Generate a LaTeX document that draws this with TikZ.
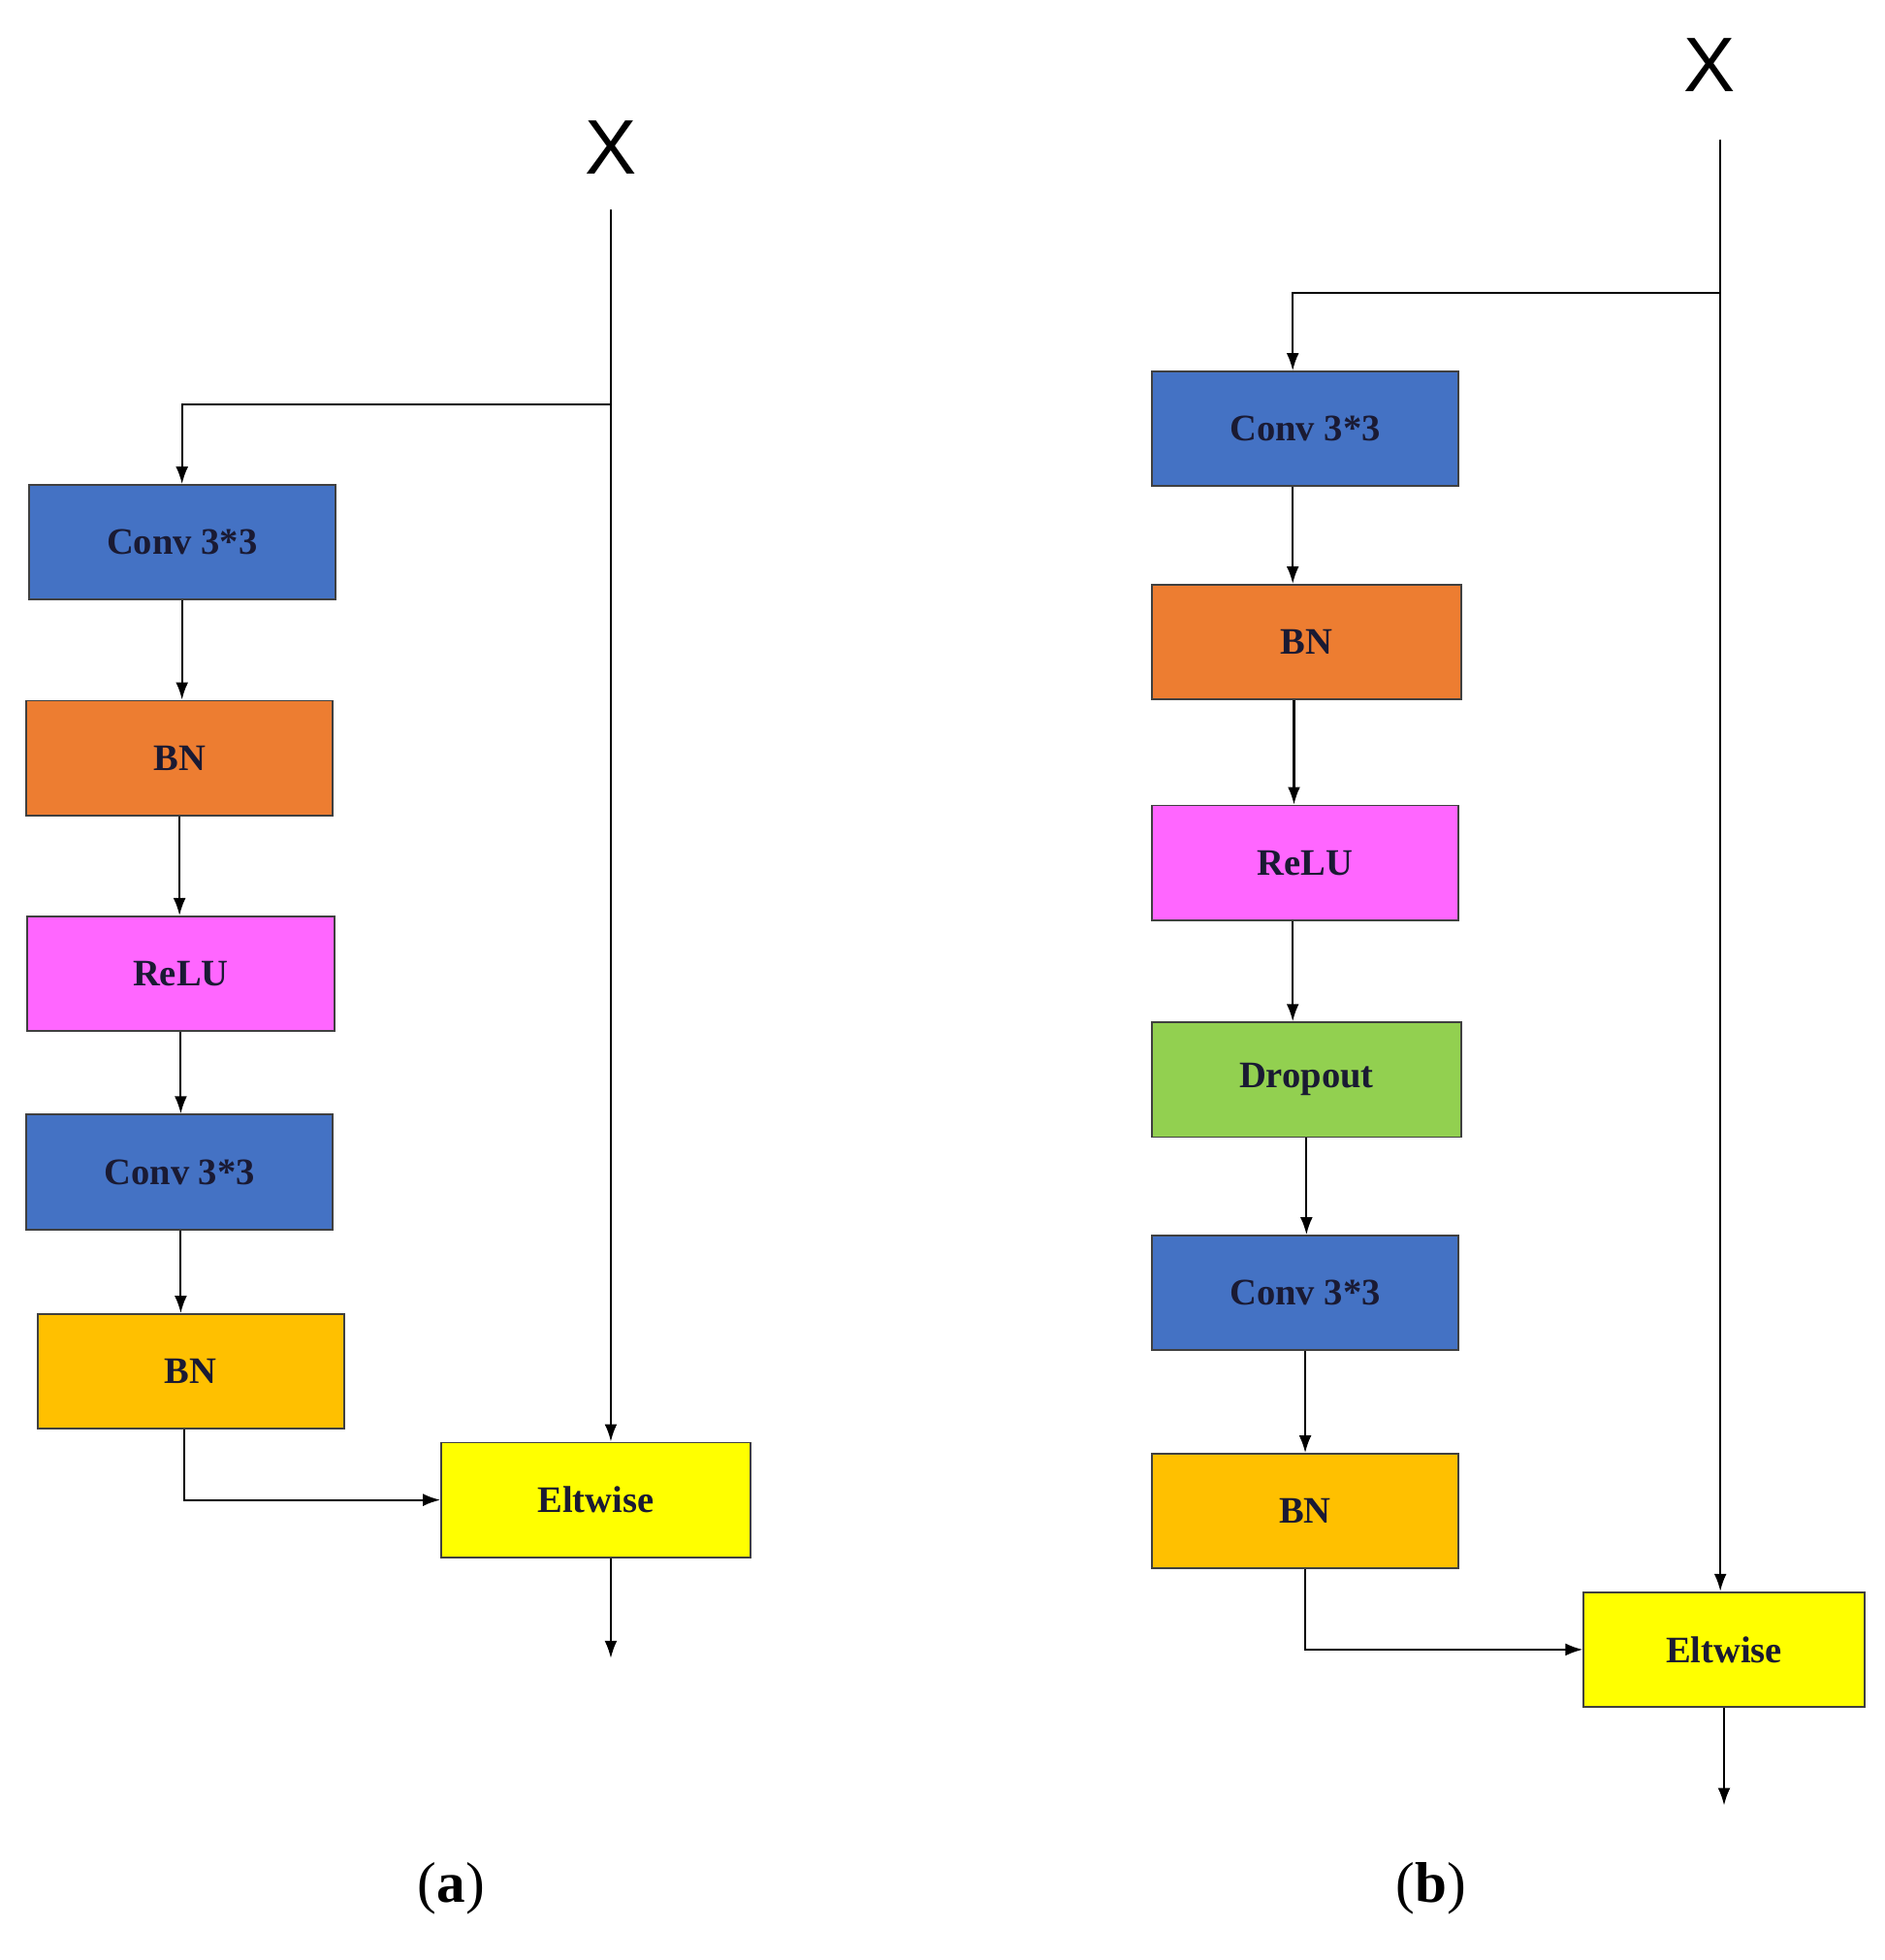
\documentclass[tikz,border=0pt]{standalone}
\usepackage{fontspec}
\setmainfont{Liberation Serif}
\newfontfamily\sansx{Liberation Sans}
\usetikzlibrary{arrows.meta}
\definecolor{cblue}{HTML}{4472C4}
\definecolor{corange}{HTML}{ED7D31}
\definecolor{cpink}{HTML}{FF66FF}
\definecolor{cgreen}{HTML}{92D050}
\definecolor{cgold}{HTML}{FFC000}
\definecolor{cyel}{HTML}{FFFF00}
\definecolor{ctext}{HTML}{1A1A33}
\begin{document}
\begin{tikzpicture}[x=1pt,y=-1pt,
 box/.style={draw=black!75,line width=1.5pt,minimum width=246pt,minimum height=92pt,inner sep=0pt,
   font=\fontsize{30}{30}\selectfont\bfseries,text=ctext},
 ar/.style={line width=1.6pt,-{Latex[length=14pt,width=10pt]}},
 ln/.style={line width=1.6pt}]
\useasboundingbox (0,0) rectangle (1512,1572);
\fill[white] (0,0) rectangle (1512,1572);
% (a)
\node[font=\sansx\fontsize{62}{62}\selectfont] (xa) at (490,118) {X};
\node[box,fill=cblue] (a1) at (146,435) {Conv 3*3};
\node[box,fill=corange] (a2) at (144,608) {BN};
\node[box,fill=cpink] (a3) at (145,781) {ReLU};
\node[box,fill=cblue] (a4) at (144,940) {Conv 3*3};
\node[box,fill=cgold] (a5) at (153,1100) {BN};
\node[box,fill=cyel,minimum width=248pt] (ae) at (478,1203) {Eltwise};
\coordinate (as) at (490,168);
\coordinate (ab) at (490,324);
\coordinate (ao) at (490,1330);
\draw[ar] (as) -- (ab |- ae.north);
\draw[ar] (ab) -| (a1.north);
\draw[ar] (a1.south) -- (a1.south |- a2.north);
\draw[ar] (a2.south) -- (a2.south |- a3.north);
\draw[ar] (a3.south) -- (a3.south |- a4.north);
\draw[ar] ([xshift=1pt]a4.south) -- ([xshift=1pt]a4.south |- a5.north);
\draw[ar] ([xshift=-5pt]a5.south) |- (ae.west);
\draw[ar] (ao |- ae.south) -- (ao);
\node[font=\fontsize{46}{46}\selectfont] (la) at (362,1515) {(\textbf{a})};
% (b)
\node[font=\sansx\fontsize{62}{62}\selectfont] (xb) at (1371,52) {X};
\node[box,fill=cblue] (b1) at (1047,344) {Conv 3*3};
\node[box,fill=corange,minimum width=248pt] (b2) at (1048,515) {BN};
\node[box,fill=cpink] (b3) at (1047,692) {ReLU};
\node[box,fill=cgreen,minimum width=248pt] (b4) at (1048,866) {Dropout};
\node[box,fill=cblue] (b5) at (1047,1037) {Conv 3*3};
\node[box,fill=cgold] (b6) at (1047,1212) {BN};
\node[box,fill=cyel,minimum width=225pt] (be) at (1383,1323) {Eltwise};
\coordinate (bs) at (1380,112);
\coordinate (bb) at (1380,235);
\coordinate (bo) at (1383,1448);
\draw[ar] (bs) -- (bb |- be.north);
\draw[ar] (bb) -| ([xshift=-10pt]b1.north);
\draw[ar] ([xshift=-10pt]b1.south) -- ([xshift=-10pt]b1.south |- b2.north);
\draw[ar] ([xshift=-10pt]b2.south) -- ([xshift=-10pt]b2.south |- b3.north);
\draw[ar] ([xshift=-10pt]b3.south) -- ([xshift=-10pt]b3.south |- b4.north);
\draw[ar] (b4.south) -- (b4.south |- b5.north);
\draw[ar] (b5.south) -- (b5.south |- b6.north);
\draw[ar] (b6.south) |- (be.west);
\draw[ar] (be.south) -- (bo);
\node[font=\fontsize{46}{46}\selectfont] (lb) at (1148,1515) {(\textbf{b})};
\end{tikzpicture}
\end{document}
